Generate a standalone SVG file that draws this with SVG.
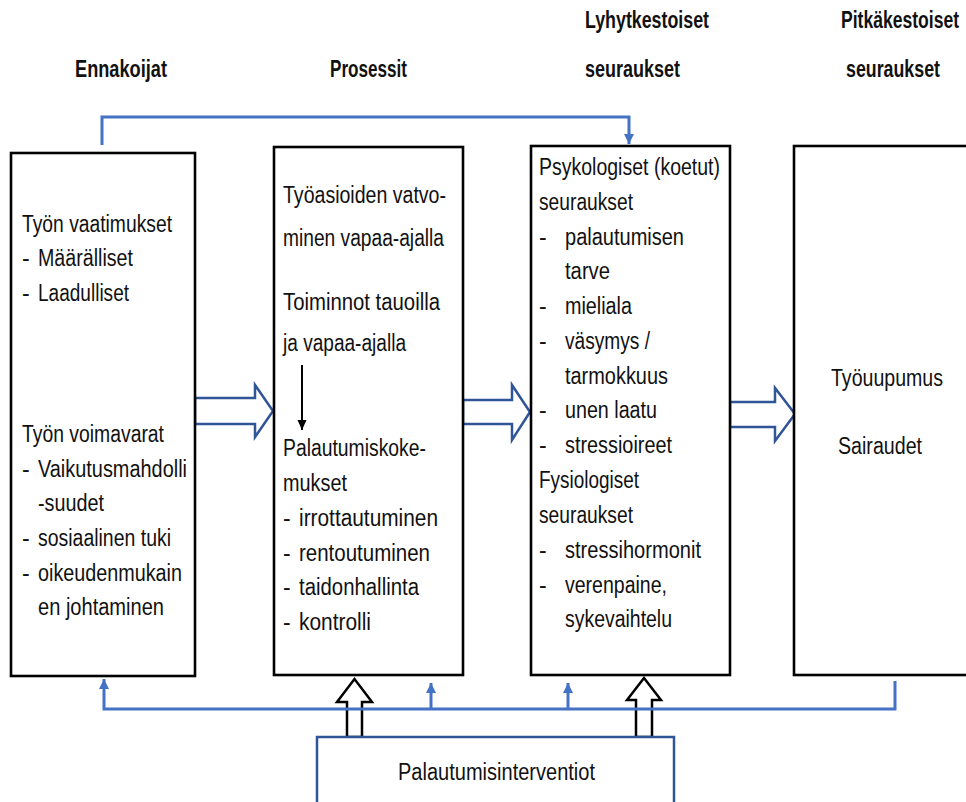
<svg xmlns="http://www.w3.org/2000/svg" width="966" height="802" viewBox="0 0 966 802">
<style>
text{font-family:"Liberation Sans",Arial,sans-serif;font-size:23px;fill:#111}
.h{font-weight:bold}
.box{fill:#fff;stroke:#000;stroke-width:2.6}
.conn{fill:none;stroke:#4472C4;stroke-width:3}
.big{fill:#fff;stroke:#2F5597;stroke-width:2.5;stroke-linejoin:miter}
.hol{fill:#fff;stroke:#000;stroke-width:2.5;stroke-linejoin:miter}
</style>
<defs>
<marker id="ab" markerUnits="userSpaceOnUse" markerWidth="12" markerHeight="12" refX="10" refY="6" orient="auto">
<path d="M0,1 L10,6 L0,11 Z" fill="#4472C4"/>
</marker>
<marker id="ak" markerUnits="userSpaceOnUse" markerWidth="12" markerHeight="12" refX="10" refY="6" orient="auto">
<path d="M0,1.5 L10,6 L0,10.5 Z" fill="#000"/>
</marker>
</defs>
<rect width="966" height="802" fill="#fff"/>

<g id="headers">
<text class="h" x="75" y="77" textLength="92" lengthAdjust="spacingAndGlyphs">Ennakoijat</text>
<text class="h" x="330" y="77" textLength="77" lengthAdjust="spacingAndGlyphs">Prosessit</text>
<text class="h" x="585" y="28" textLength="124" lengthAdjust="spacingAndGlyphs">Lyhytkestoiset</text>
<text class="h" x="585" y="77" textLength="95" lengthAdjust="spacingAndGlyphs">seuraukset</text>
<text class="h" x="841" y="28" textLength="118" lengthAdjust="spacingAndGlyphs">Pitkäkestoiset</text>
<text class="h" x="846" y="77" textLength="94" lengthAdjust="spacingAndGlyphs">seuraukset</text>
</g>

<g id="connectors">
<path class="conn" d="M102,145 V117 H629 V144" marker-end="url(#ab)"/>
<polygon class="big" points="195,398 255,398 255,385 273,411 255,437 255,424 195,424"/>
<polygon class="big" points="463,400 512,400 512,385 530,412 512,440 512,424 463,424"/>
<polygon class="big" points="730,402 775,402 775,388 795,414 775,441 775,427 730,427"/>
<polygon class="hol" points="347,737 347,702 337,702 354.5,679 372,702 362,702 362,737"/>
<polygon class="hol" points="636,737 636,700 627,700 644,678 661,700 652,700 652,737"/>
<path class="conn" d="M895,681 V709 H104 V679" marker-end="url(#ab)"/>
<path class="conn" d="M431,709 V683" marker-end="url(#ab)"/>
<path class="conn" d="M568,709 V683" marker-end="url(#ab)"/>
</g>

<g id="ennakoijat">
<rect class="box" x="11" y="153" width="184" height="523"/>
<text x="22" y="232" textLength="150" lengthAdjust="spacingAndGlyphs">Työn vaatimukset</text>
<text x="22" y="266">-</text><text x="38" y="266" textLength="95" lengthAdjust="spacingAndGlyphs">Määrälliset</text>
<text x="22" y="301">-</text><text x="38" y="301" textLength="91" lengthAdjust="spacingAndGlyphs">Laadulliset</text>
<text x="22" y="442" textLength="142" lengthAdjust="spacingAndGlyphs">Työn voimavarat</text>
<text x="22" y="477">-</text><text x="38" y="477" textLength="149" lengthAdjust="spacingAndGlyphs">Vaikutusmahdolli</text>
<text x="38" y="511" textLength="66" lengthAdjust="spacingAndGlyphs">-suudet</text>
<text x="22" y="546">-</text><text x="38" y="546" textLength="133" lengthAdjust="spacingAndGlyphs">sosiaalinen tuki</text>
<text x="22" y="581">-</text><text x="38" y="581" textLength="144" lengthAdjust="spacingAndGlyphs">oikeudenmukain</text>
<text x="38" y="615" textLength="126" lengthAdjust="spacingAndGlyphs">en johtaminen</text>
</g>

<g id="prosessit">
<rect class="box" x="274" y="147" width="189" height="528"/>
<text x="283" y="203" textLength="163" lengthAdjust="spacingAndGlyphs">Työasioiden vatvo-</text>
<text x="283" y="246" textLength="161" lengthAdjust="spacingAndGlyphs">minen vapaa-ajalla</text>
<text x="283" y="310" textLength="157" lengthAdjust="spacingAndGlyphs">Toiminnot tauoilla</text>
<text x="283" y="351" textLength="123" lengthAdjust="spacingAndGlyphs">ja vapaa-ajalla</text>
<path d="M302,365 V430" stroke="#000" stroke-width="2" marker-end="url(#ak)"/>
<text x="283" y="456" textLength="143" lengthAdjust="spacingAndGlyphs">Palautumiskoke-</text>
<text x="283" y="491" textLength="64" lengthAdjust="spacingAndGlyphs">mukset</text>
<text x="283" y="526">-</text><text x="299" y="526" textLength="139" lengthAdjust="spacingAndGlyphs">irrottautuminen</text>
<text x="283" y="561">-</text><text x="299" y="561" textLength="131" lengthAdjust="spacingAndGlyphs">rentoutuminen</text>
<text x="283" y="595">-</text><text x="299" y="595" textLength="120" lengthAdjust="spacingAndGlyphs">taidonhallinta</text>
<text x="283" y="630">-</text><text x="299" y="630" textLength="72" lengthAdjust="spacingAndGlyphs">kontrolli</text>
</g>

<g id="lyhytkestoiset">
<rect class="box" x="531" y="146" width="199" height="529"/>
<text x="539" y="175" textLength="181" lengthAdjust="spacingAndGlyphs">Psykologiset (koetut)</text>
<text x="539" y="210" textLength="94" lengthAdjust="spacingAndGlyphs">seuraukset</text>
<text x="539" y="245">-</text><text x="565" y="245" textLength="119" lengthAdjust="spacingAndGlyphs">palautumisen</text>
<text x="565" y="279" textLength="45" lengthAdjust="spacingAndGlyphs">tarve</text>
<text x="539" y="314">-</text><text x="565" y="314" textLength="67" lengthAdjust="spacingAndGlyphs">mieliala</text>
<text x="539" y="349">-</text><text x="565" y="349" textLength="85" lengthAdjust="spacingAndGlyphs">väsymys /</text>
<text x="565" y="384" textLength="103" lengthAdjust="spacingAndGlyphs">tarmokkuus</text>
<text x="539" y="418">-</text><text x="565" y="418" textLength="92" lengthAdjust="spacingAndGlyphs">unen laatu</text>
<text x="539" y="453">-</text><text x="565" y="453" textLength="107" lengthAdjust="spacingAndGlyphs">stressioireet</text>
<text x="539" y="488" textLength="100" lengthAdjust="spacingAndGlyphs">Fysiologiset</text>
<text x="539" y="523" textLength="94" lengthAdjust="spacingAndGlyphs">seuraukset</text>
<text x="539" y="558">-</text><text x="565" y="558" textLength="136" lengthAdjust="spacingAndGlyphs">stressihormonit</text>
<text x="539" y="593">-</text><text x="565" y="593" textLength="102" lengthAdjust="spacingAndGlyphs">verenpaine,</text>
<text x="565" y="627" textLength="107" lengthAdjust="spacingAndGlyphs">sykevaihtelu</text>
</g>

<g id="pitkakestoiset">
<rect class="box" x="794" y="146" width="180" height="529"/>
<text x="831" y="386" textLength="112" lengthAdjust="spacingAndGlyphs">Työuupumus</text>
<text x="838" y="454" textLength="84" lengthAdjust="spacingAndGlyphs">Sairaudet</text>
</g>

<g id="palautumisinterventiot">
<rect x="317" y="737" width="357" height="80" fill="#fff" stroke="#2F5597" stroke-width="2.5"/>
<text x="398" y="780" textLength="197" lengthAdjust="spacingAndGlyphs">Palautumisinterventiot</text>
</g>
</svg>
